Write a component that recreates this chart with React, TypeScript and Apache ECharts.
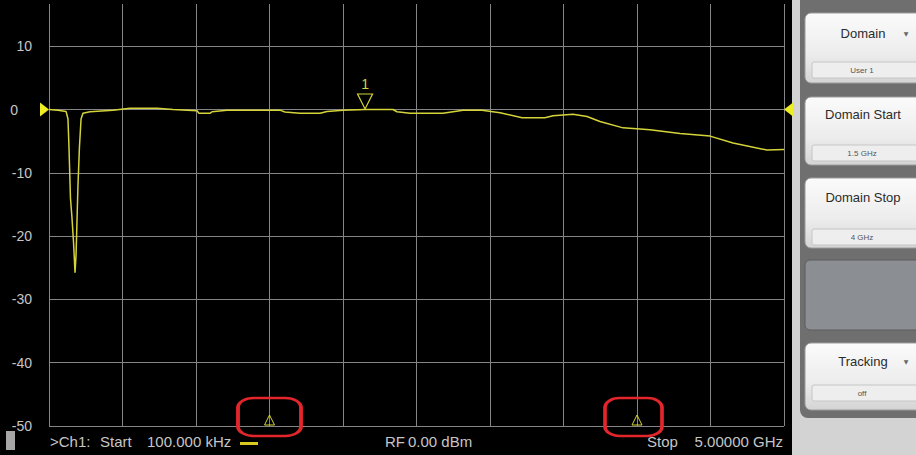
import React, { useEffect, useRef } from "react";
import * as echarts from "echarts";

// Trace (Ch1, S-parameter log magnitude)
const freqGHz = [
  0.0001, 0.061, 0.116, 0.129, 0.136, 0.146, 0.156, 0.167, 0.177, 0.184,
  0.19, 0.197, 0.207, 0.218, 0.231, 0.279, 0.435, 0.551, 0.735, 0.844,
  1.007, 1.02, 1.095, 1.109, 1.211, 1.571, 1.605, 1.707, 1.844, 1.891,
  2.0, 2.15, 2.34, 2.367, 2.456, 2.68, 2.816, 2.946, 3.068, 3.218,
  3.374, 3.429, 3.565, 3.66, 3.748, 3.905, 4.088, 4.293, 4.497, 4.653,
  4.884, 5.0,
];
const traceDb = [
  0.0, -0.1, -0.3, -1.5, -6, -14, -17, -21, -25.8, -23,
  -18, -12, -6, -1.5, -0.6, -0.35, -0.1, 0.2, 0.2, 0.0,
  -0.2, -0.6, -0.6, -0.35, -0.1, -0.1, -0.4, -0.6, -0.6, -0.3,
  -0.1, 0.0, 0.0, -0.35, -0.6, -0.6, -0.1, -0.1, -0.5, -1.3,
  -1.3, -1.0, -0.75, -1.1, -1.9, -2.9, -3.2, -3.8, -4.2, -5.3,
  -6.4, -6.3,
];

// Axis scale
const xMinGHz = 0;
const xMaxGHz = 5;
const xStepGHz = 0.5;
const yMinDb = -50;
const yMaxDb = 16.67;
const yStepDb = 10;
const refLevelDb = 0;

// Markers
const marker1 = { freq: 2.15, db: 0, label: "1" };
const domainStartGHz = 1.5;
const domainStopGHz = 4.0;

// Status line texts
const statusTexts = [">Ch1:", "Start", "100.000 kHz", "RF", "0.00 dBm", "Stop", "5.00000 GHz"];

// Soft-key panel
const softKeys = [
  { label: "Domain", sub: "User 1", arrow: true },
  { label: "Domain Start", sub: "1.5 GHz", arrow: false },
  { label: "Domain Stop", sub: "4 GHz", arrow: false },
  { label: "Tracking", sub: "off", arrow: true },
];

const TRACE = "#d4d43a";
const GRID = "#858585";
const TXT = "#c6c6c6";
const FONT = '"Liberation Sans", Arial, sans-serif';

export default function App() {
  const ref = useRef<HTMLDivElement>(null);

  useEffect(() => {
    if (!ref.current) return;
    const chart = echarts.init(ref.current, undefined, { renderer: "svg" });

    const btnGrad = () =>
      new echarts.graphic.LinearGradient(0, 0, 0, 1, [
        { offset: 0, color: "#fbfbfb" },
        { offset: 0.6, color: "#ececec" },
        { offset: 1, color: "#d4d4d4" },
      ]);

    const keyGeom = [
      { y: 13, h: 70, ly: 33, fy: 62, sy: 70 },
      { y: 97, h: 68, ly: 114, fy: 145, sy: 153 },
      { y: 178, h: 70, ly: 197, fy: 229, sy: 237 },
      { y: 343, h: 67, ly: 361, fy: 385, sy: 393 },
    ];

    const keyEls: any[] = [];
    softKeys.forEach((k, i) => {
      const g = keyGeom[i];
      keyEls.push({
        type: "rect",
        shape: { x: 805, y: g.y, width: 122, height: g.h, r: 6 },
        style: { fill: btnGrad(), stroke: "#9c9c9c", lineWidth: 1 },
      });
      keyEls.push({
        type: "text",
        style: {
          text: k.label, x: 863, y: g.ly, align: "center", verticalAlign: "middle",
          font: `13px ${FONT}`, fill: "#2b2b2b",
        },
      });
      if (k.arrow) {
        keyEls.push({
          type: "text",
          style: {
            text: "▼", x: 906, y: g.ly, align: "center", verticalAlign: "middle",
            font: '6px "DejaVu Sans", sans-serif', fill: "#666",
          },
        });
      }
      keyEls.push({
        type: "rect",
        shape: { x: 812, y: g.fy, width: 106, height: 16, r: 2 },
        style: { fill: "#eeeeee", stroke: "#c6c6c6", lineWidth: 1 },
      });
      keyEls.push({
        type: "text",
        style: {
          text: k.sub, x: 862, y: g.sy, align: "center", verticalAlign: "middle",
          font: `8px ${FONT}`, fill: "#555",
        },
      });
    });

    const statusX = [50, 100, 147, 385, 408, 647, 783];
    const statusEls = statusTexts.map((t, i) => ({
      type: "text",
      style: {
        text: t, x: statusX[i], y: 441, align: i === statusTexts.length - 1 ? "right" : "left",
        verticalAlign: "middle", font: `15px ${FONT}`, fill: TXT,
      },
    }));

    chart.setOption({
      animation: false,
      backgroundColor: "#000000",
      grid: { left: 49, right: 132, top: 4, bottom: 29 },
      xAxis: {
        type: "value",
        min: xMinGHz,
        max: xMaxGHz,
        interval: xStepGHz,
        axisLabel: { show: false },
        axisLine: { show: false },
        axisTick: { show: false },
        splitLine: { show: true, lineStyle: { color: GRID, width: 1 } },
      },
      yAxis: {
        type: "value",
        min: yMinDb,
        max: yMaxDb,
        interval: yStepDb,
        axisLine: { show: false },
        axisTick: { show: false },
        axisLabel: {
          color: TXT,
          fontSize: 14,
          fontFamily: FONT,
          margin: 17,
          showMaxLabel: false,
          formatter: (v: number) => {
            if (Math.abs(v % yStepDb) > 1e-6) return "";
            return v === 0 ? "{z|0}" : String(v);
          },
          rich: { z: { padding: [0, 14, 0, 0], color: TXT, fontSize: 14, fontFamily: FONT } },
        },
        splitLine: { show: true, showMaxLine: false, lineStyle: { color: GRID, width: 1 } },
      },
      series: [
        {
          type: "line",
          data: freqGHz.map((f, i) => [f, traceDb[i]]),
          symbol: "none",
          lineStyle: { color: TRACE, width: 1.5 },
          silent: true,
          markPoint: {
            silent: true,
            label: { show: false },
            data: [
              {
                coord: [marker1.freq, marker1.db],
                symbol: "path://M0,0L16,0L8,16Z",
                symbolSize: [15, 15],
                symbolOffset: [0, -8],
                itemStyle: { color: "rgba(0,0,0,0)", borderColor: TRACE, borderWidth: 1.2 },
                label: {
                  show: true, formatter: marker1.label, position: "top", distance: 2,
                  color: TRACE, fontSize: 14, fontFamily: FONT,
                },
              },
              {
                coord: [xMinGHz, refLevelDb],
                symbol: "triangle",
                symbolSize: [14, 9],
                symbolRotate: -90,
                symbolOffset: [-4.5, 0],
                itemStyle: { color: "#eeee22" },
              },
              {
                coord: [xMaxGHz, refLevelDb],
                symbol: "triangle",
                symbolSize: [14, 9],
                symbolRotate: 90,
                symbolOffset: [4.5, 0],
                itemStyle: { color: "#eeee22" },
              },
              {
                coord: [domainStartGHz, yMinDb],
                symbol: "triangle",
                symbolSize: [10, 10],
                symbolOffset: [0, -6],
                itemStyle: { color: "rgba(0,0,0,0)", borderColor: TRACE, borderWidth: 1 },
              },
              {
                coord: [domainStopGHz, yMinDb],
                symbol: "triangle",
                symbolSize: [10, 10],
                symbolOffset: [0, -6],
                itemStyle: { color: "rgba(0,0,0,0)", borderColor: TRACE, borderWidth: 1 },
              },
              {
                coord: [domainStartGHz, yMinDb],
                symbol: "roundRect",
                symbolSize: [63, 38],
                symbolOffset: [0, -9],
                itemStyle: { color: "rgba(0,0,0,0)", borderColor: "#e3262b", borderWidth: 3 },
              },
              {
                coord: [domainStopGHz, yMinDb],
                symbol: "roundRect",
                symbolSize: [57, 38],
                symbolOffset: [-3.5, -9],
                itemStyle: { color: "rgba(0,0,0,0)", borderColor: "#e3262b", borderWidth: 3 },
              },
            ],
          },
        },
      ],
      graphic: [
        { type: "rect", shape: { x: 792, y: 0, width: 124, height: 455 }, style: { fill: "#d3d3d3" } },
        { type: "rect", shape: { x: 800, y: -10, width: 130, height: 428, r: 8 }, style: { fill: "#6f6f6f" } },
        {
          type: "rect",
          shape: { x: 805, y: 260, width: 122, height: 70, r: 5 },
          style: { fill: "#8b8e92", stroke: "#5d5d5d", lineWidth: 1 },
        },
        ...keyEls,
        { type: "rect", shape: { x: 6, y: 431, width: 9, height: 19 }, style: { fill: "#a6a6a6" } },
        { type: "rect", shape: { x: 240, y: 442, width: 18, height: 3 }, style: { fill: "#d8c820" } },
        ...statusEls,
      ],
    });

    return () => chart.dispose();
  }, []);

  return (
    <div
      ref={ref}
      style={{ position: "absolute", left: 0, top: 0, width: 916, height: 455 }}
    />
  );
}
